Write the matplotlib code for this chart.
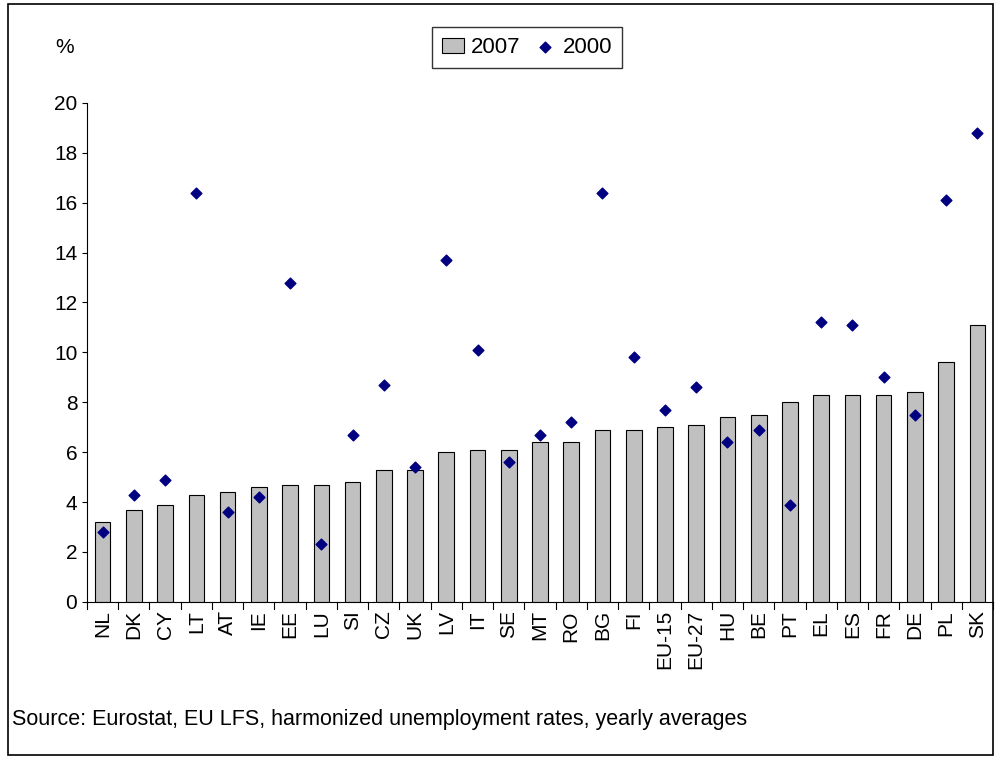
import matplotlib
matplotlib.use("Agg")
import matplotlib.pyplot as plt
from matplotlib.patches import Rectangle

countries = ["NL","DK","CY","LT","AT","IE","EE","LU","SI","CZ","UK","LV","IT","SE","MT","RO","BG","FI","EU-15","EU-27","HU","BE","PT","EL","ES","FR","DE","PL","SK"]
rate_2007 = [3.2,3.7,3.9,4.3,4.4,4.6,4.7,4.7,4.8,5.3,5.3,6.0,6.1,6.1,6.4,6.4,6.9,6.9,7.0,7.1,7.4,7.5,8.0,8.3,8.3,8.3,8.4,9.6,11.1]
rate_2000 = [2.8,4.3,4.9,16.4,3.6,4.2,12.8,2.3,6.7,8.7,5.4,13.7,10.1,5.6,6.7,7.2,16.4,9.8,7.7,8.6,6.4,6.9,3.9,11.2,11.1,9.0,7.5,16.1,18.8]

plt.rcParams['font.family'] = ['Liberation Sans', 'DejaVu Sans']
fig = plt.figure(figsize=(10, 7.57), dpi=100)
fig.patches.append(Rectangle((0.008, 0.003), 0.985, 0.992, transform=fig.transFigure,
                             fill=False, edgecolor='black', lw=1.2))
ax = fig.add_axes([0.087, 0.205, 0.906, 0.659])
x = list(range(len(countries)))
b = ax.bar(x, rate_2007, width=0.5, color='#c0c0c0', edgecolor='black', linewidth=0.8, label='2007', zorder=2)
s = ax.scatter(x, rate_2000, marker='D', s=30, color='#000080', label='2000', zorder=3)
ax.set_xlim(-0.5, 28.5)
ax.set_ylim(0, 20)
ax.set_yticks(range(0, 21, 2))
ax.set_xticks(x)
ax.set_xticklabels(countries, rotation=90, fontsize=15)
ax.tick_params(axis='y', labelsize=15)
ax.tick_params(axis='x', length=0, pad=6)
for sp in ['top', 'right']:
    ax.spines[sp].set_visible(False)
for i in range(len(countries) + 1):
    ax.plot([i - 0.5, i - 0.5], [0, -0.3], color='black', lw=0.8, clip_on=False)
fig.text(0.055, 0.93, '%', fontsize=15)
fig.legend([b, s], ['2007', '2000'], loc='center', bbox_to_anchor=(0.527, 0.937), ncol=2, fontsize=16,
           frameon=True, fancybox=False, edgecolor='black', handlelength=1.0,
           handletextpad=0.3, columnspacing=0.6, borderpad=0.45)
fig.text(0.012, 0.042, 'Source: Eurostat, EU LFS, harmonized unemployment rates, yearly averages', fontsize=15.5)
fig.savefig('out.png', dpi=100)
